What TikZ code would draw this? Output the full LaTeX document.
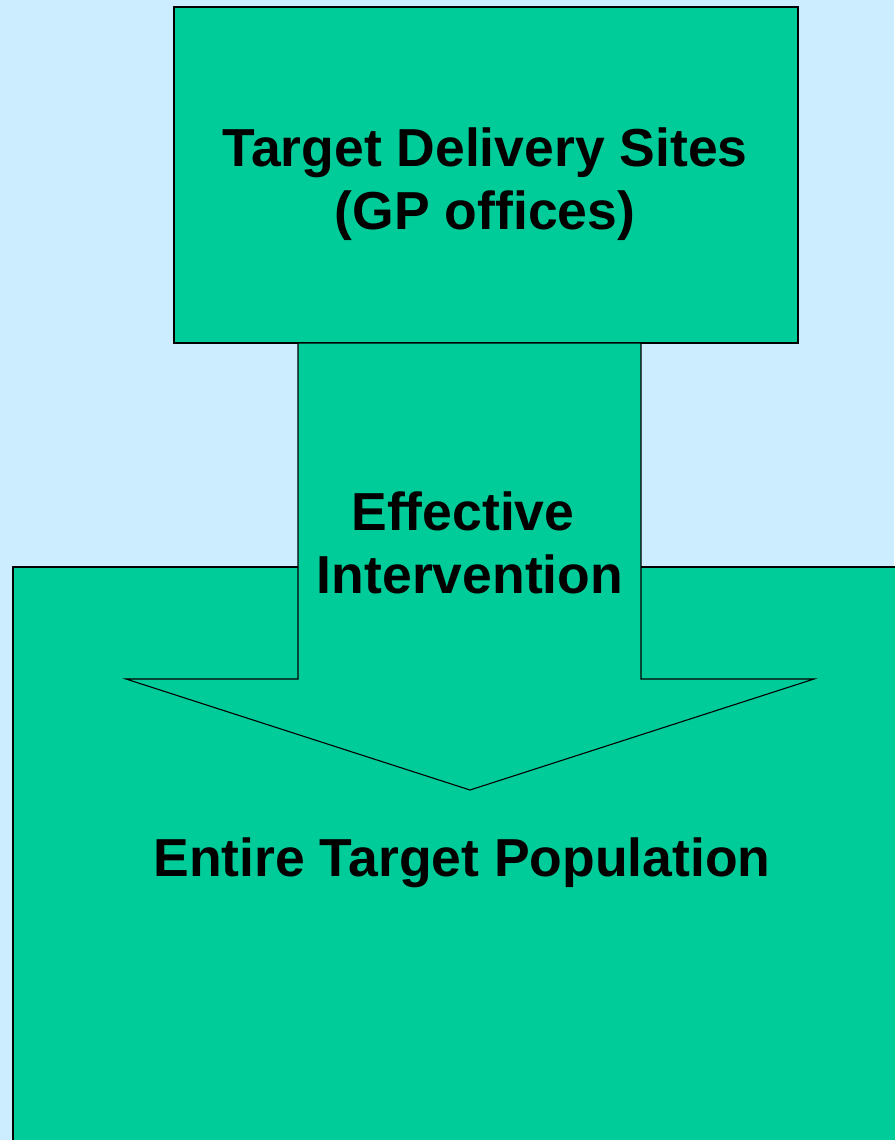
\documentclass[tikz,border=0pt]{standalone}
\usepackage{fontspec}
\setmainfont{Liberation Sans}
\definecolor{bgblue}{RGB}{204,236,255}
\definecolor{boxgreen}{RGB}{0,204,153}
\begin{document}
\begin{tikzpicture}[x=1pt,y=-1pt,
  shapebox/.style={fill=boxgreen,draw=black,line width=1.1pt},
  lbl/.style={anchor=base,inner sep=0pt,font=\bfseries\fontsize{53.5}{63}\selectfont}]
\fill[bgblue] (0,0) rectangle (894,1140);
\useasboundingbox (0,0) rectangle (894,1140);
% bottom box
\draw[shapebox] (900,567) -- (13,567) -- (13,1150) -- (900,1150);
% top box
\draw[shapebox] (174,7) rectangle (798,343);
% arrow
\draw[shapebox] (298,343) -- (641,343) -- (641,679) -- (814,679) -- (470,790) -- (126,679) -- (298,679) -- cycle;
\node[lbl] (t1) at (485,166) {Target Delivery Sites};
\node[lbl] (t2) at (485,229) {(GP offices)};
\node[lbl] (e1) at (463,530) {Effective};
\node[lbl] (e2) at (470,593) {Intervention};
\node[lbl] (p1) at (462,876) {Entire Target Population};
\end{tikzpicture}
\end{document}
